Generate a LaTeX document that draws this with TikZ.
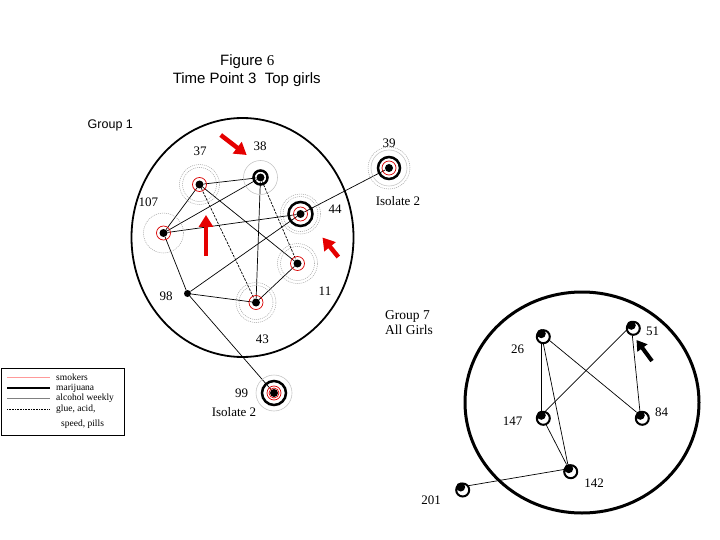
\documentclass[tikz,border=0pt]{standalone}
\usepackage{fontspec}
\setmainfont{Liberation Serif}
\setsansfont{Liberation Sans}
\usetikzlibrary{arrows.meta,backgrounds}
\tikzset{
  dotn/.style={circle,fill=black,inner sep=0pt,minimum size=8pt},
  smalldot/.style={circle,fill=black,inner sep=0pt,minimum size=7pt},
  dring/.style={draw=gray!75,line width=0.5pt,dash pattern=on 1pt off 1pt},
  gring/.style={draw=gray!45,line width=0.6pt},
  redring/.style={draw=red!85!black,line width=0.7pt},
  thickring/.style={draw=black,line width=2.5pt},
  edgeline/.style={black,line width=0.7pt},
  dashedge/.style={black,line width=0.7pt,dash pattern=on 2.5pt off 1.2pt},
  lbl/.style={font=\fontsize{13}{15}\selectfont,inner sep=0pt},
  redarrow/.style={draw=red!90!black,line width=4.5pt,-{Triangle[width=14pt,length=12pt]}},
  blackarrow/.style={draw=black,line width=4pt,-{Triangle[width=12pt,length=10pt]}},
  gsevenring/.style={circle,draw=black,fill=white,line width=2pt,inner sep=0pt,minimum size=13pt},
  gsevendot/.style={circle,fill=black,inner sep=0pt,minimum size=9pt},
  legtxt/.style={font=\fontsize{9.5}{11}\selectfont,inner sep=0pt,anchor=west},
}
\begin{document}
\begin{tikzpicture}[x=1pt,y=-1pt]
\useasboundingbox (0,0) rectangle (720,540);

% titles
\node[font=\fontsize{15}{18}\selectfont,anchor=base,inner sep=0pt] (t1) at (247.3,66) {\sffamily Figure \rmfamily 6};
\node[font=\fontsize{15}{18}\selectfont\sffamily,anchor=base,inner sep=0pt] (t2) at (246.7,84) {Time Point 3~~Top girls};
\node[font=\fontsize{12.5}{15}\selectfont\sffamily,inner sep=0pt] (g1) at (110.3,125) {Group 1};

% group 1 boundary
\draw[line width=1.8pt] (242.5,237.5) ellipse [x radius=111pt, y radius=119.5pt];

% group 1 nodes (dots)
\node[dotn] (d37) at (199.5,184.5) {};
\node[dotn] (d38) at (260.5,177.5) {};
\node[dotn] (d44) at (300.5,214) {};
\node[dotn] (d107) at (163.5,233) {};
\node[dotn] (d11) at (297.5,263.5) {};
\node[dotn] (d43) at (256,302.5) {};
\node[smalldot] (d98) at (187.5,293.5) {};
\node[dotn] (d39) at (389,168) {};
\node[dotn] (d99) at (274,393) {};

% rings
\draw[dring] (d37) circle[radius=20pt]; \draw[dring] (d37) circle[radius=17pt]; \draw[redring] (d37) circle[radius=7pt];
\draw[gring] (d38) circle[radius=17pt]; \draw[thickring] (d38) circle[radius=7pt];
\draw[dring] (d44) circle[radius=20pt]; \draw[dring] (d44) circle[radius=17.5pt]; \draw[thickring] (d44) circle[radius=12pt]; \draw[redring] (d44) circle[radius=7pt];
\draw[dring] (d107) circle[radius=20pt]; \draw[redring] (d107) circle[radius=7pt];
\draw[dring] (d11) circle[radius=20pt]; \draw[dring] (d11) circle[radius=17pt]; \draw[redring] (d11) circle[radius=7pt];
\draw[dring] (d43) circle[radius=20pt]; \draw[dring] (d43) circle[radius=17pt]; \draw[redring] (d43) circle[radius=7pt];
\draw[dring] (d39) circle[radius=21pt]; \draw[gring] (d39) circle[radius=18pt]; \draw[thickring] (d39) circle[radius=11pt]; \draw[redring] (d39) circle[radius=7pt];
\draw[gring] (d99) circle[radius=18pt]; \draw[thickring] (d99) circle[radius=12pt]; \draw[redring] (d99) circle[radius=7pt]; \draw[redring] (d99) circle[radius=5pt];

% group 1 labels
\node[lbl] (l37) at (200,151.7) {37};
\node[lbl] (l38) at (260,146) {38};
\node[lbl] (l107) at (148.3,202.7) {107};
\node[lbl] (l44) at (335,209.3) {44};
\node[lbl] (l11) at (325,291.7) {11};
\node[lbl] (l98) at (166,296) {98};
\node[lbl] (l43) at (262.3,339.3) {43};
\node[lbl] (l39) at (389,143) {39};
\node[lbl] (l99) at (241.7,393.3) {99};
\node[lbl] (iso39) at (398,201) {Isolate 2};
\node[lbl] (iso99) at (234,412) {Isolate 2};

% group 1 edges
\begin{scope}[on background layer]
\draw[edgeline] (d37) -- (d38);
\draw[edgeline] (d37) -- (d107);
\draw[edgeline] (d37) -- (d11);
\draw[dashedge] (d37) -- (d43);
\draw[edgeline] (d38) -- (d107);
\draw[edgeline] (d38) -- (d43);
\draw[dashedge] (d38) -- (d11);
\draw[edgeline] (d44) -- (d107);
\draw[edgeline] (d44) -- (d98);
\draw[edgeline] (d44) -- (d39);
\draw[edgeline] (d107) -- (d98);
\draw[edgeline] (d98) -- (d43);
\draw[edgeline] (d98) -- (d99);
\draw[edgeline] (d11) -- (d43);
\end{scope}

% red arrows
\coordinate (ra1s) at (220.7,135); \coordinate (ra1e) at (246.7,155);
\coordinate (ra2s) at (206,256); \coordinate (ra2e) at (206,215);
\coordinate (ra3s) at (338.3,257); \coordinate (ra3e) at (322.5,237.5);
\draw[redarrow] (ra1s) -- (ra1e);
\draw[redarrow] (ra2s) -- (ra2e);
\draw[redarrow] (ra3s) -- (ra3e);

% legend
\draw[line width=0.6pt] (1,368) rectangle (124,435);
\draw[red!40,line width=0.8pt] (7,377.5) -- (50,377.5);
\draw[black,line width=2pt] (7,388) -- (50,388);
\draw[gray,line width=0.5pt] (7,398.5) -- (50,398.5);
\draw[black,line width=0.5pt,dash pattern=on 0.8pt off 0.8pt] (7,409) -- (50,409);
\node[legtxt] (lg1) at (56,377.5) {smokers};
\node[legtxt] (lg2) at (56,388) {marijuana};
\node[legtxt] (lg3) at (56,398.5) {alcohol weekly};
\node[legtxt] (lg4) at (56,409) {glue, acid,};
\node[legtxt] (lg5) at (61,424.5) {speed, pills};

% group 7
\node[font=\fontsize{13.5}{15}\selectfont,anchor=base west,inner sep=0pt] (g7a) at (385,319) {Group 7};
\node[font=\fontsize{13.5}{15}\selectfont,anchor=base west,inner sep=0pt] (g7b) at (385,334.5) {All Girls};
\draw[line width=3pt] (582,402.5) ellipse [x radius=117pt, y radius=110.5pt];

\node[gsevenring] (r26) at (543.3,336.7) {};
\node[gsevenring] (r51) at (633.3,328.3) {};
\node[gsevenring] (r147) at (543.3,418.3) {};
\node[gsevenring] (r84) at (642.3,418.3) {};
\node[gsevenring] (r142) at (570.7,471.7) {};
\node[gsevenring] (r201) at (462.7,490) {};
\node[gsevendot] (k26) at (541.3,333.7) {};
\node[gsevendot] (k51) at (631.3,325.3) {};
\node[gsevendot] (k147) at (541.3,415.3) {};
\node[gsevendot] (k84) at (640.3,415.3) {};
\node[gsevendot] (k142) at (568.7,468.7) {};
\node[gsevendot] (k201) at (460.7,487) {};

\begin{scope}[on background layer]
\draw[edgeline] (k26) -- (k147);
\draw[edgeline] (k26) -- (k142);
\draw[edgeline] (k26) -- (k84);
\draw[edgeline] (k51) -- (k147);
\draw[edgeline] (k51) -- (k84);
\draw[edgeline] (k147) -- (k142);
\draw[edgeline] (k142) -- (k201);
\end{scope}

\node[lbl] (l26) at (517.7,349.3) {26};
\node[lbl] (l51) at (652.7,331) {51};
\node[lbl] (l147) at (512.7,421) {147};
\node[lbl] (l84) at (661.7,412.7) {84};
\node[lbl] (l142) at (594,482.7) {142};
\node[lbl] (l201) at (431,500) {201};

\coordinate (ba1s) at (652,361); \coordinate (ba1e) at (636.5,340);
\draw[blackarrow] (ba1s) -- (ba1e);
\end{tikzpicture}
\end{document}
